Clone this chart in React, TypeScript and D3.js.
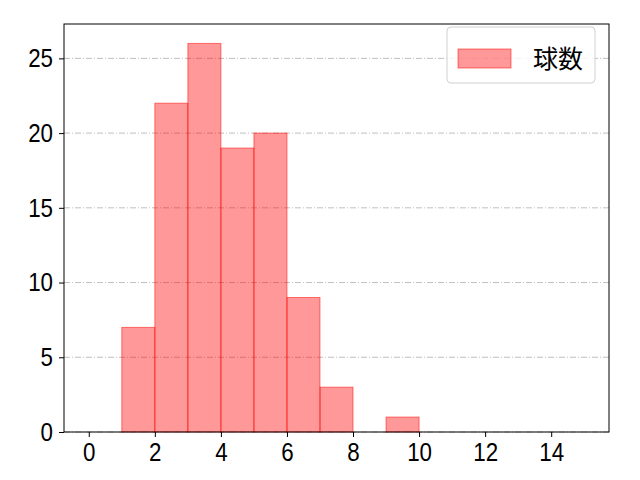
import React, { useEffect, useRef } from 'react';
import * as d3 from 'd3';

// histogram bins: [x0, x1) and pitch counts
const binStarts = [0, 1, 2, 3, 4, 5, 6, 7, 8, 9, 10, 11, 12, 13, 14];
const counts = [0, 7, 22, 26, 19, 20, 9, 3, 0, 1, 0, 0, 0, 0, 0];
const xTicks = [0, 2, 4, 6, 8, 10, 12, 14];
const yTicks = [0, 5, 10, 15, 20, 25];
const legendLabel = '球数';

const App: React.FC = () => {
  const ref = useRef<SVGSVGElement>(null);

  useEffect(() => {
    const svg = d3.select(ref.current);
    svg.selectAll('*').remove();
    const margin = { top: 24, right: 31, bottom: 48, left: 64 };
    const width = 640 - margin.left - margin.right;
    const height = 480 - margin.top - margin.bottom;
    const font = '"Liberation Sans", Arial, "Noto Sans CJK JP", sans-serif';
    const cjk = '"Noto Sans CJK JP", sans-serif';
    const squeeze = 0.86;

    const x = d3.scaleLinear().domain([-0.75, 15.75]).range([0, width]);
    const y = d3.scaleLinear().domain([0, 26 * 1.05]).range([height, 0]);

    const g = svg.append('g').attr('transform', `translate(${margin.left},${margin.top})`);

    g.selectAll('.grid')
      .data(yTicks)
      .enter()
      .append('line')
      .attr('x1', 0)
      .attr('x2', width)
      .attr('y1', (d) => y(d))
      .attr('y2', (d) => y(d))
      .attr('stroke', '#b0b0b0')
      .attr('stroke-width', 0.8)
      .attr('stroke-dasharray', '6,2,1,2');

    g.selectAll('.bar')
      .data(binStarts.map((s, i) => ({ s, c: counts[i] })).filter((d) => d.c > 0))
      .enter()
      .append('rect')
      .attr('x', (d) => x(d.s))
      .attr('width', (d) => x(d.s + 1) - x(d.s))
      .attr('y', (d) => y(d.c))
      .attr('height', (d) => y(0) - y(d.c))
      .attr('fill', 'rgba(255,0,0,0.4)')
      .attr('stroke', 'rgba(255,0,0,0.5)')
      .attr('stroke-width', 1);

    const xAxis = g
      .append('g')
      .attr('transform', `translate(0,${height})`)
      .call(d3.axisBottom(x).tickValues(xTicks).tickSize(5).tickPadding(6).tickFormat(d3.format('d')));
    const yAxis = g.append('g').call(d3.axisLeft(y).tickValues(yTicks).tickSize(5).tickPadding(6).tickFormat(d3.format('d')));
    [xAxis, yAxis].forEach((a) => {
      a.select('.domain').remove();
      a.attr('font-size', null).attr('font-family', null);
      a.selectAll('text')
        .style('font-size', '26px')
        .style('font-family', font)
        .attr('fill', '#000')
        .attr('transform', `scale(${squeeze},1)`);
      a.selectAll('line').attr('stroke', '#000').attr('stroke-width', 1);
    });
    yAxis.selectAll('text').attr('x', -11 / squeeze);

    g.append('rect')
      .attr('width', width)
      .attr('height', height)
      .attr('fill', 'none')
      .attr('stroke', '#000')
      .attr('stroke-width', 1);

    const lg = g.append('g').attr('transform', `translate(${447 - margin.left},${27 - margin.top})`);
    lg.append('rect')
      .attr('width', 148)
      .attr('height', 56)
      .attr('rx', 4)
      .attr('fill', 'rgba(255,255,255,0.8)')
      .attr('stroke', '#d0d0d0');
    lg.append('rect')
      .attr('x', 11)
      .attr('y', 22)
      .attr('width', 53)
      .attr('height', 19)
      .attr('fill', 'rgba(255,0,0,0.4)')
      .attr('stroke', 'rgba(255,0,0,0.5)');
    lg.append('text')
      .attr('x', 86)
      .attr('y', 41)
      .style('font-size', '25px')
      .style('font-family', cjk)
      .text(legendLabel);
  }, []);

  return (
    <svg ref={ref} width={640} height={480} style={{ position: 'absolute', left: 0, top: 0 }} />
  );
};

export default App;
